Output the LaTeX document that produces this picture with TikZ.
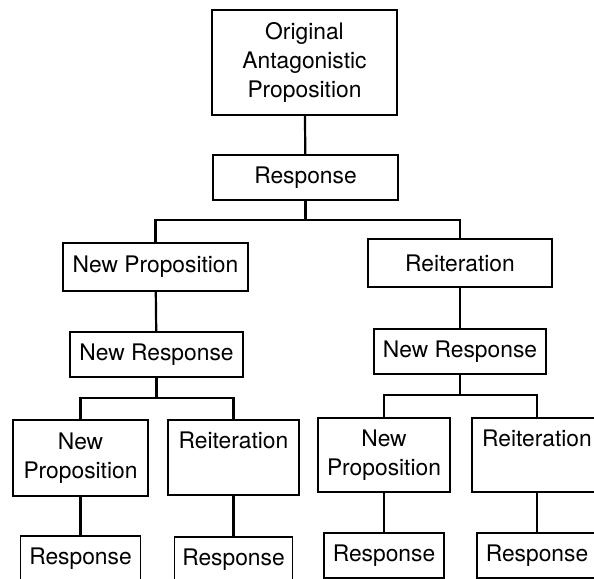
\documentclass[tikz,border=0pt]{standalone}
\usepackage{fontspec}
\setmainfont{TeX Gyre Heros}
\begin{document}
\begin{tikzpicture}[x=0.5pt, y=-0.5pt,
        box/.style={draw, line width=0.9pt, inner sep=0pt, align=center,
                font=\fontsize{11.4}{14.5}\selectfont},
        link/.style={line width=1.1pt}]
        \useasboundingbox (0, 0) rectangle (594, 578);
        \clip (0, 0) rectangle (594, 578);

        \node[box, minimum width=92.5pt, minimum height=52.5pt] (orig) at (304.5, 62.5) {Original\\Antagonistic\\Proposition};
        \node[box, minimum width=92.5pt, minimum height=22.5pt] (resp) at (305.5, 177.5) {Response};

        \node[box, minimum width=92.5pt, minimum height=24pt] (newprop) at (155.5, 267) {New Proposition};
        \node[box, minimum width=92pt, minimum height=24pt] (reit) at (460, 263) {Reiteration};
        \node[box, minimum width=86.5pt, minimum height=22.5pt] (newresp) at (156.5, 354.5) {New Response};
        \node[box, minimum width=86pt, minimum height=22.5pt] (reitresp) at (460, 351.5) {New Response};

        \node[box, minimum width=67.5pt, minimum height=38pt] (npnp) at (80.5, 458) {New\\Proposition};
        \node[box, minimum width=65.5pt, minimum height=37.5pt] (npre) at (233.5, 457.5) {Reiteration\\\phantom{Proposition}};
        \node[box, minimum width=66pt, minimum height=37pt] (renp) at (384, 455) {New\\Proposition};
        \node[box, minimum width=65pt, minimum height=37pt] (rere) at (537, 455) {Reiteration\\\phantom{Proposition}};

        \node[box, minimum width=60pt, minimum height=22.5pt] (npnpresp) at (80.5, 558.5) {Response};
        \node[box, minimum width=59pt, minimum height=22.5pt] (npreresp) at (233.5, 559.5) {Response};
        \node[box, minimum width=60pt, minimum height=22.5pt] (renpresp) at (384, 555.5) {Response};
        \node[box, minimum width=60pt, minimum height=22.5pt] (rereresp) at (537, 555.5) {Response};

        \coordinate (fork) at (305.5, 220);
        \coordinate (npfork) at (156.5, 398);
        \coordinate (refork) at (460, 395);

        \draw[link] (orig) -- (resp);
        \draw[link] (resp) -- (fork);
        \draw[link] (newprop.north) |- (fork) -| (reit.north);
        \draw[link] (newprop) -- (newresp);
        \draw[link] (reit) -- (reitresp);
        \draw[link] (newresp) -- (npfork);
        \draw[link] (npnp.north) |- (npfork) -| (npre.north);
        \draw[link] (reitresp) -- (refork);
        \draw[link] (renp.north) |- (refork) -| (rere.north);
        \draw[link] (npnp) -- (npnpresp);
        \draw[link] (npre) -- (npreresp);
        \draw[link] (renp) -- (renpresp);
        \draw[link] (rere) -- (rereresp);
\end{tikzpicture}
\end{document}
